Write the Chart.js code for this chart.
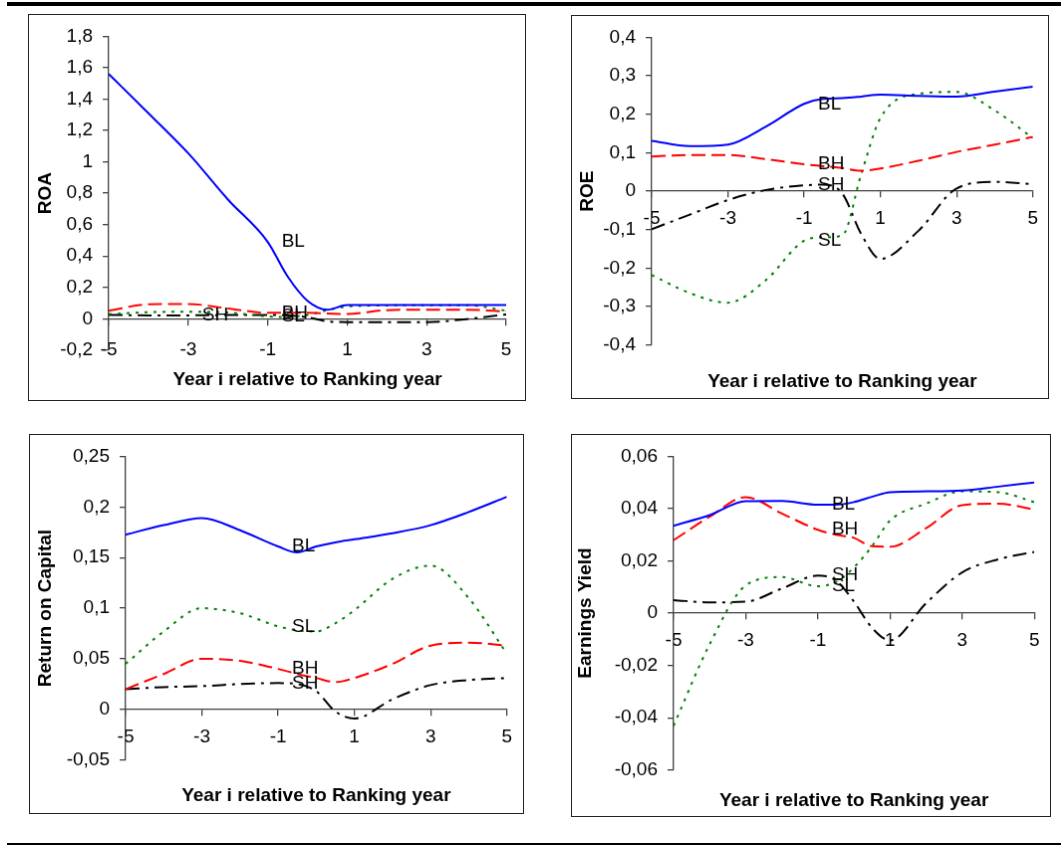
<!DOCTYPE html>
<html>
<head>
<meta charset="utf-8">
<script src="https://cdn.jsdelivr.net/npm/chart.js@4.4.0/dist/chart.umd.min.js"></script>
<style>
  body { margin: 0; background: #fff; }
  #page { position: relative; width: 1061px; height: 846px; overflow: hidden; }
  .rule { position: absolute; background: #000; }
  canvas { position: absolute; border: 1px solid #222; }
</style>
</head>
<body>
<div id="page">
  <div class="rule" style="left:7px;top:2px;width:1054px;height:4px"></div>
  <div class="rule" style="left:7px;top:843px;width:1054px;height:2px"></div>
  <canvas id="roa"></canvas>
  <canvas id="roe"></canvas>
  <canvas id="roc"></canvas>
  <canvas id="ey"></canvas>
</div>
<script>
// years relative to ranking year
const years = [-5, -4, -3, -2, -1, -0.5, 0, 0.5, 1, 2, 3, 4, 5];
const xTicks = [-5, -3, -1, 1, 3, 5];
const seriesNames = ['BL', 'BH', 'SL', 'SH'];
const xTitle = 'Year i relative to Ranking year';

// ROA
const roaBL = [1.56, 1.31, 1.055, 0.76, 0.49, 0.27, 0.115, 0.058, 0.088, 0.088, 0.088, 0.088, 0.088];
const roaBH = [0.052, 0.092, 0.094, 0.066, 0.038, 0.038, 0.038, 0.034, 0.031, 0.055, 0.058, 0.058, 0.046];
const roaSL = [0.03, 0.042, 0.045, 0.04, 0.015, 0.012, 0.025, 0.055, 0.078, 0.085, 0.087, 0.087, 0.052];
const roaSH = [0.025, 0.022, 0.022, 0.024, 0.025, 0.022, 0.01, -0.016, -0.021, -0.021, -0.021, -0.002, 0.028];
const roaTicks = [-0.2, 0, 0.2, 0.4, 0.6, 0.8, 1, 1.2, 1.4, 1.6, 1.8];

// ROE
const roeBL = [0.131, 0.117, 0.121, 0.168, 0.227, 0.24, 0.242, 0.246, 0.251, 0.248, 0.246, 0.259, 0.272];
const roeBH = [0.09, 0.094, 0.094, 0.083, 0.07, 0.065, 0.06, 0.053, 0.059, 0.079, 0.102, 0.121, 0.141];
const roeSL = [-0.218, -0.265, -0.29, -0.231, -0.129, -0.12, -0.115, 0.045, 0.19, 0.253, 0.258, 0.21, 0.138];
const roeSH = [-0.099, -0.061, -0.023, 0.003, 0.015, 0.017, -0.006, -0.112, -0.176, -0.103, 0.007, 0.024, 0.018];
const roeTicks = [-0.4, -0.3, -0.2, -0.1, 0, 0.1, 0.2, 0.3, 0.4];

// Return on Capital
const rocBL = [0.1726, 0.182, 0.189, 0.177, 0.161, 0.155, 0.161, 0.165, 0.168, 0.174, 0.182, 0.195, 0.21];
const rocBH = [0.02, 0.035, 0.05, 0.048, 0.04, 0.035, 0.031, 0.027, 0.031, 0.045, 0.063, 0.066, 0.063];
const rocSL = [0.045, 0.077, 0.1, 0.095, 0.082, 0.078, 0.077, 0.085, 0.098, 0.129, 0.142, 0.11, 0.055];
const rocSH = [0.02, 0.022, 0.023, 0.025, 0.026, 0.025, 0.018, -0.002, -0.009, 0.01, 0.024, 0.029, 0.031];
const rocTicks = [-0.05, 0, 0.05, 0.1, 0.15, 0.2, 0.25];

// Earnings Yield
const eyBL = [0.0334, 0.0375, 0.0428, 0.0429, 0.0415, 0.0415, 0.0425, 0.0445, 0.0463, 0.0466, 0.0469, 0.0484, 0.05];
const eyBH = [0.0279, 0.0369, 0.0444, 0.0381, 0.0319, 0.03, 0.0288, 0.0256, 0.0254, 0.0325, 0.0413, 0.0419, 0.0396];
const eySL = [-0.0431, -0.0119, 0.0106, 0.0138, 0.0103, 0.0119, 0.0175, 0.0256, 0.0354, 0.0419, 0.0466, 0.0463, 0.0425];
const eySH = [0.005, 0.0041, 0.0044, 0.0094, 0.0144, 0.0125, 0.0044, -0.0056, -0.0104, 0.0038, 0.0156, 0.0206, 0.0234];
const eyTicks = [-0.06, -0.04, -0.02, 0, 0.02, 0.04, 0.06];

const lineStyle = {
  BL: { color: '#0000ff', dash: [] },
  BH: { color: '#ff0000', dash: [14, 6] },
  SL: { color: '#008000', dash: [3, 6] },
  SH: { color: '#000000', dash: [14, 6, 3, 6] }
};

Chart.defaults.font.family = '"Liberation Sans", Arial, sans-serif';
Chart.defaults.font.size = 19;
Chart.defaults.color = '#000';

const axisColor = '#404040';
const fmt = v => String(Math.round(v * 10000) / 10000).replace('.', ',');

// box / plot rectangles in page pixels
const panels = [
  { id: 'roa', yTitle: 'ROA', values: [roaBL, roaBH, roaSL, roaSH], ticks: roaTicks,
    tags: [['BL', -1], ['BH', -1], ['SL', -1], ['SH', -3]],
    box: [28, 14, 528, 403], plot: [109, 33.3, 516, 351.9], titleY: 381.7, yTitleX: 45.6, tickPad: 13.6 },
  { id: 'roe', yTitle: 'ROE', values: [roeBL, roeBH, roeSL, roeSH], ticks: roeTicks,
    tags: [['BL', -1], ['BH', -1], ['SH', -1], ['SL', -1]],
    box: [571, 15, 1051, 401], plot: [652, 32.3, 1039.8, 346.7], titleY: 383.3, yTitleX: 587.6, tickPad: 10 },
  { id: 'roc', yTitle: 'Return on Capital', values: [rocBL, rocBH, rocSL, rocSH], ticks: rocTicks,
    tags: [['BL', -1], ['SL', -1], ['BH', -1], ['SH', -1]],
    box: [29, 434, 526, 816], plot: [126, 451.7, 515, 761.7], titleY: 798, yTitleX: 45.6, tickPad: 11 },
  { id: 'ey', yTitle: 'Earnings Yield', values: [eyBL, eyBH, eySL, eySH], ticks: eyTicks,
    tags: [['BL', -1], ['BH', -1], ['SH', -1], ['SL', -1]],
    box: [571, 434, 1053, 819], plot: [674, 451.7, 1041.5, 771.7], titleY: 803, yTitleX: 585.9, tickPad: 10.5 }
];

function makeChart(p) {
  const canvas = document.getElementById(p.id);
  const W = p.box[2] - p.box[0] - 2;
  const H = p.box[3] - p.box[1] - 2;
  canvas.width = W;
  canvas.height = H;
  canvas.style.left = p.box[0] + 'px';
  canvas.style.top = p.box[1] + 'px';
  const ox = p.box[0] + 1, oy = p.box[1] + 1;
  const half = 19 * 1.2 / 2;

  const tagPlugin = {
    id: 'tags',
    afterDatasetsDraw(chart) {
      const ctx = chart.ctx;
      ctx.save();
      ctx.font = '19px "Liberation Sans", Arial, sans-serif';
      ctx.fillStyle = '#000';
      ctx.textAlign = 'left';
      ctx.textBaseline = 'middle';
      p.tags.forEach(([name, yr]) => {
        const pt = chart.getDatasetMeta(seriesNames.indexOf(name)).data[years.indexOf(yr)];
        ctx.fillText(name, pt.x + 14, pt.y);
      });
      ctx.restore();
    }
  };

  new Chart(canvas, {
    type: 'line',
    data: {
      datasets: seriesNames.map((name, i) => ({
        label: name,
        data: years.map((x, j) => ({ x: x, y: p.values[i][j] })),
        borderColor: lineStyle[name].color,
        borderDash: lineStyle[name].dash,
        borderWidth: 2,
        pointRadius: 0,
        fill: false,
        cubicInterpolationMode: 'monotone'
      }))
    },
    options: {
      responsive: false,
      animation: false,
      devicePixelRatio: 1,
      layout: {
        padding: {
          left: 0,
          top: p.plot[1] - oy,
          right: ox + W - p.plot[2],
          bottom: oy + H - (p.titleY + half)
        }
      },
      plugins: {
        legend: { display: false },
        tooltip: { enabled: false },
        title: {
          display: true,
          position: 'bottom',
          fullSize: false,
          text: xTitle,
          color: '#000',
          font: { size: 19, weight: 'bold' },
          padding: { top: p.titleY - p.plot[3] - half, bottom: 0 }
        }
      },
      scales: {
        x: {
          type: 'linear',
          min: -5,
          max: 5,
          position: { y: 0 },
          afterBuildTicks: s => { s.ticks = xTicks.map(v => ({ value: v })); },
          grid: { drawOnChartArea: false, drawTicks: true, tickLength: 6, color: axisColor, lineWidth: 1.3 },
          border: { color: axisColor, width: 1.3 },
          ticks: { padding: p.tickPad, autoSkip: false, maxRotation: 0, callback: v => String(v) }
        },
        y: {
          min: p.ticks[0],
          max: p.ticks[p.ticks.length - 1],
          afterBuildTicks: s => { s.ticks = p.ticks.map(v => ({ value: v })); },
          afterFit: s => { s.width = p.plot[0] - ox; },
          grid: { drawOnChartArea: false, drawTicks: true, tickLength: 6, color: axisColor, lineWidth: 1.3 },
          border: { color: axisColor, width: 1.3 },
          ticks: { padding: 10, callback: fmt },
          title: {
            display: true,
            text: p.yTitle,
            color: '#000',
            font: { size: 19, weight: 'bold' },
            padding: { top: p.yTitleX - ox - half, bottom: 0 }
          }
        }
      }
    },
    plugins: [tagPlugin]
  });
}

panels.forEach(makeChart);
</script>
</body>
</html>
